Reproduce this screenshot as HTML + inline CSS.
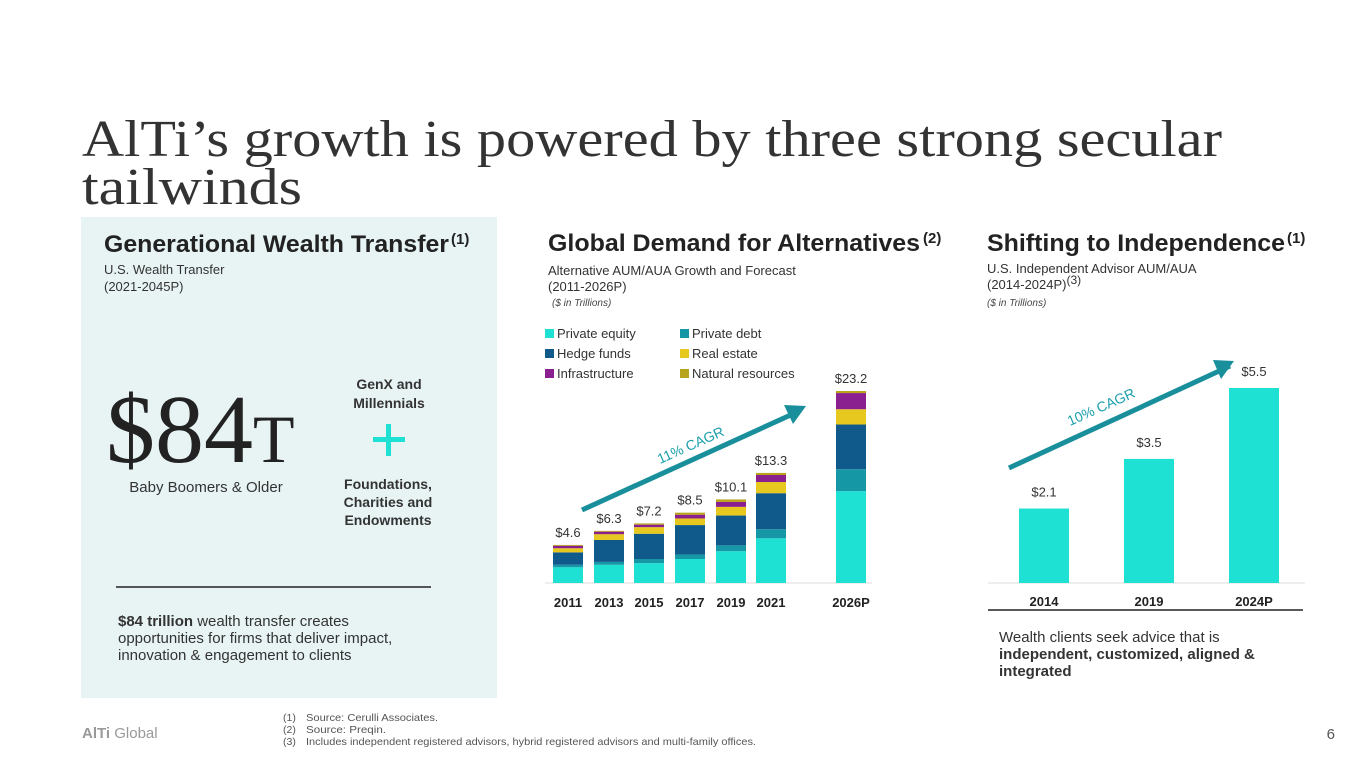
<!DOCTYPE html>
<html><head><meta charset="utf-8"><style>
html,body{margin:0;padding:0;background:#fff;}
svg{display:block;font-family:"Liberation Sans",sans-serif;}
</style></head><body>
<svg id="page" width="1365" height="768" viewBox="0 0 1365 768" xmlns="http://www.w3.org/2000/svg">
<text x="82" y="156" font-family="Liberation Serif, serif" font-size="52" fill="#333" textLength="1140" lengthAdjust="spacingAndGlyphs">AlTi’s growth is powered by three strong secular</text>
<text x="82" y="204" font-family="Liberation Serif, serif" font-size="52" fill="#333" textLength="220" lengthAdjust="spacingAndGlyphs">tailwinds</text>

<g>
<rect x="81" y="217" width="416" height="481" fill="#e8f4f4"/>
<text x="104" y="252" font-size="24" font-weight="bold" fill="#222" textLength="345" lengthAdjust="spacingAndGlyphs">Generational Wealth Transfer</text>
<text x="451" y="244" font-size="15" font-weight="bold" fill="#222">(1)</text>
<text x="104" y="274" font-size="13" fill="#333">U.S. Wealth Transfer</text>
<text x="104" y="291" font-size="13" fill="#333">(2021-2045P)</text>
<text x="106" y="462" font-family="Liberation Serif, serif" font-size="98" fill="#222">$84<tspan font-size="68">T</tspan></text>
<text x="206" y="492" font-size="15" fill="#333" text-anchor="middle">Baby Boomers &amp; Older</text>
<text x="389" y="389" font-size="14" font-weight="bold" fill="#333" text-anchor="middle">GenX and</text>
<text x="389" y="408" font-size="14" font-weight="bold" fill="#333" text-anchor="middle">Millennials</text>
<rect x="373" y="437" width="32" height="5" fill="#1ee0d3"/>
<rect x="386" y="424" width="5" height="32" fill="#1ee0d3"/>
<text x="388" y="489" font-size="14" font-weight="bold" fill="#333" text-anchor="middle">Foundations,</text>
<text x="388" y="507" font-size="14" font-weight="bold" fill="#333" text-anchor="middle">Charities and</text>
<text x="388" y="525" font-size="14" font-weight="bold" fill="#333" text-anchor="middle">Endowments</text>
<line x1="116" y1="587" x2="431" y2="587" stroke="#222" stroke-width="1.5"/>
<text x="118" y="626" font-size="15" fill="#333"><tspan font-weight="bold">$84 trillion</tspan> wealth transfer creates</text>
<text x="118" y="643" font-size="15" fill="#333">opportunities for firms that deliver impact,</text>
<text x="118" y="660" font-size="15" fill="#333">innovation &amp; engagement to clients</text>
</g>

<g>
<text x="548" y="251" font-size="24" font-weight="bold" fill="#222" textLength="372" lengthAdjust="spacingAndGlyphs">Global Demand for Alternatives</text>
<text x="923" y="243" font-size="15" font-weight="bold" fill="#222">(2)</text>
<text x="548" y="275" font-size="13" fill="#333">Alternative AUM/AUA Growth and Forecast</text>
<text x="548" y="291" font-size="13" fill="#333">(2011-2026P)</text>
<text x="552" y="306" font-size="10" font-style="italic" fill="#444">($ in Trillions)</text>
</g>
<g id="legend"></g>
<g id="altChart"></g>

<g>
<text x="987" y="251" font-size="24" font-weight="bold" fill="#222" textLength="298" lengthAdjust="spacingAndGlyphs">Shifting to Independence</text>
<text x="1287" y="243" font-size="15" font-weight="bold" fill="#222">(1)</text>
<text x="987" y="273" font-size="13" fill="#333">U.S. Independent Advisor AUM/AUA</text>
<text x="987" y="289" font-size="13" fill="#333">(2014-2024P)<tspan font-size="12" dy="-5">(3)</tspan></text>
<text x="987" y="306" font-size="10" font-style="italic" fill="#444">($ in Trillions)</text>
</g>
<g id="indChart"></g>
<line x1="988" y1="610" x2="1303" y2="610" stroke="#222" stroke-width="1.5"/>
<text x="999" y="642" font-size="15" fill="#333">Wealth clients seek advice that is</text>
<text x="999" y="659" font-size="15" font-weight="bold" fill="#333">independent, customized, aligned &amp;</text>
<text x="999" y="676" font-size="15" font-weight="bold" fill="#333">integrated</text>

<g>
<text x="82" y="738" font-size="15" fill="#999"><tspan font-weight="bold">AlTi</tspan> Global</text>
<text x="283" y="721" font-size="10.5" fill="#555">(1)</text><text x="306" y="721" font-size="10.5" fill="#555" textLength="132" lengthAdjust="spacingAndGlyphs">Source: Cerulli Associates.</text>
<text x="283" y="733" font-size="10.5" fill="#555">(2)</text><text x="306" y="733" font-size="10.5" fill="#555" textLength="80" lengthAdjust="spacingAndGlyphs">Source: Preqin.</text>
<text x="283" y="745" font-size="10.5" fill="#555">(3)</text><text x="306" y="745" font-size="10.5" fill="#555" textLength="450" lengthAdjust="spacingAndGlyphs">Includes independent registered advisors, hybrid registered advisors and multi-family offices.</text>
<text x="1335" y="739" font-size="15" fill="#555" text-anchor="end">6</text>
</g>
</svg>
<script>
const altYears = ["2011","2013","2015","2017","2019","2021","2026P"];
const altTotals = ["$4.6","$6.3","$7.2","$8.5","$10.1","$13.3","$23.2"];
const seriesNames = ["Private equity","Private debt","Hedge funds","Real estate","Infrastructure","Natural resources"];
const privateEquity = [1.9,2.2,2.4,2.9,3.85,5.4,11.1];
const privateDebt = [0.3,0.35,0.5,0.55,0.7,1.1,2.65];
const hedgeFunds = [1.5,2.65,3.05,3.55,3.6,4.35,5.4];
const realEstate = [0.5,0.7,0.8,0.8,1.05,1.35,1.85];
const infrastructure = [0.3,0.3,0.3,0.45,0.6,0.85,1.95];
const naturalResources = [0.1,0.1,0.15,0.25,0.3,0.25,0.25];
const indYears = ["2014","2019","2024P"];
const indValues = [2.1,3.5,5.5];
const indLabels = ["$2.1","$3.5","$5.5"];

const NS="http://www.w3.org/2000/svg";
const colors=["#1ee0d3","#1597a6","#0f5a8a","#e6c81e","#8a1f8f","#b8a41a"];
function mk(tag,attrs,parent,txt){const e=document.createElementNS(NS,tag);for(const k in attrs)e.setAttribute(k,attrs[k]);if(txt!==undefined)e.textContent=txt;parent.appendChild(e);return e;}

const lg=document.getElementById('legend');
seriesNames.forEach((n,i)=>{
  const col=i%2, row=Math.floor(i/2);
  const x=545+col*135, y=329+row*20;
  const g=mk('g',{},lg);
  
  
  mk('rect',{x:x,y:y,width:9,height:9,fill:colors[i]},g);
  mk('text',{x:x+12,y:y+9,'font-size':13,fill:'#333'},g,n);
});

const ac=document.getElementById('altChart');
const base=583, scaleA=192/23.2;
const yA=v=>base-v*scaleA;
const xSlots=[568,609,649,690,731,771,851];
const xA=i=>xSlots[i];
const series=[privateEquity,privateDebt,hedgeFunds,realEstate,infrastructure,naturalResources];
mk('line',{x1:545,y1:base,x2:872,y2:base,stroke:'#ddd','stroke-width':1},ac);
altYears.forEach((yr,i)=>{
  let cum=0;
  series.forEach((s,k)=>{
    const r=mk('rect',{x:xA(i)-15,y:yA(cum+s[i]),width:30,height:s[i]*scaleA,fill:colors[k]},ac);
    
    
    cum+=s[i];
  });
  const t=mk('text',{x:xA(i),y:yA(cum)-8,'font-size':13,fill:'#333','text-anchor':'middle'},ac,altTotals[i]);
  
  
  const l=mk('text',{x:xA(i),y:607,'font-size':13,'font-weight':'bold',fill:'#222','text-anchor':'middle'},ac,yr);
  
  
});
mk('line',{x1:582,y1:510,x2:795,y2:413,stroke:'#1a8f9c','stroke-width':5},ac);
mk('polygon',{points:'806,406 784,405 793,424',fill:'#1a8f9c'},ac);
mk('text',{x:0,y:0,'font-size':14,fill:'#1a9fac',transform:'translate(660,464) rotate(-24)'},ac,'11% CAGR');

const ic=document.getElementById('indChart');
const scaleI=195/5.5;
const yI=v=>base-v*scaleI;
const xI=i=>1044+i*105;
mk('line',{x1:988,y1:base,x2:1305,y2:base,stroke:'#ddd','stroke-width':1},ic);
indValues.forEach((v,i)=>{
  const r=mk('rect',{x:xI(i)-25,y:yI(v),width:50,height:v*scaleI,fill:'#1ee0d3'},ic);
  
  
  const t=mk('text',{x:xI(i),y:yI(v)-12,'font-size':13,fill:'#333','text-anchor':'middle'},ic,indLabels[i]);
  
  
  const l=mk('text',{x:xI(i),y:606,'font-size':13,'font-weight':'bold',fill:'#222','text-anchor':'middle'},ic,indYears[i]);
  
  
});
mk('line',{x1:1009,y1:468,x2:1230,y2:366,stroke:'#1a8f9c','stroke-width':5},ic);
mk('polygon',{points:'1234,361 1213,360 1221,379',fill:'#1a8f9c'},ic);
mk('text',{x:0,y:0,'font-size':14,fill:'#1a9fac',transform:'translate(1070,426) rotate(-24)'},ic,'10% CAGR');
</script>
</body></html>
